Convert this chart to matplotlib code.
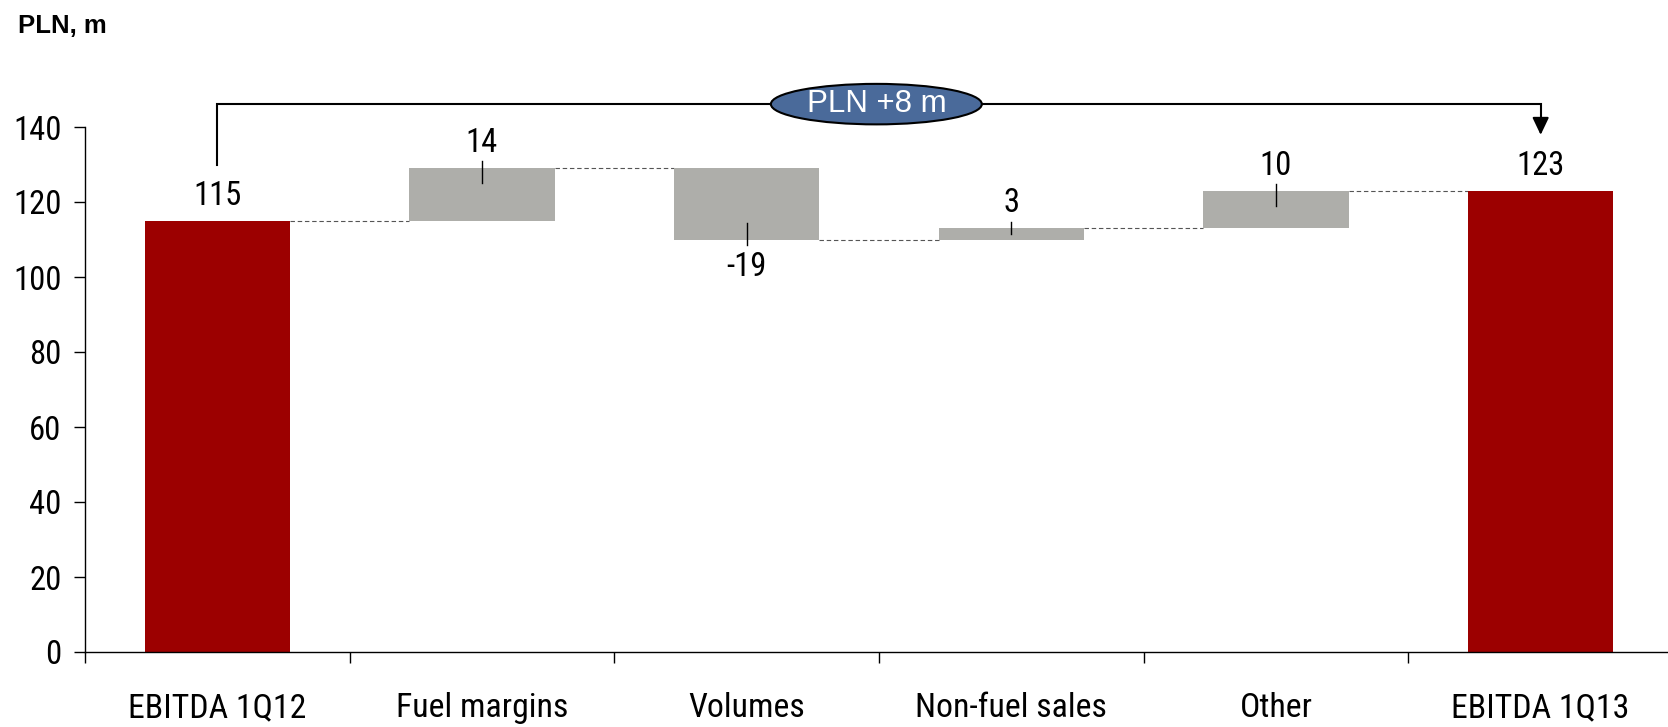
import matplotlib
matplotlib.use("Agg")
import matplotlib.pyplot as plt
from matplotlib import font_manager
from matplotlib.patches import Ellipse
import numpy as np

categories = ["EBITDA 1Q12", "Fuel margins", "Volumes", "Non-fuel sales", "Other", "EBITDA 1Q13"]
changes = [115, 14, -19, 3, 10, 123]
is_total = [True, False, False, False, False, True]
value_labels = ["115", "14", "-19", "3", "10", "123"]
y_ticks = [0, 20, 40, 60, 80, 100, 120, 140]
unit_label = "PLN, m"
delta_label = "PLN +8 m"

RED = "#9C0000"
GRAY = "#AEAEAA"
REG = ["Liberation Sans", "DejaVu Sans"]

installed = {f.name for f in font_manager.fontManager.ttflist}
if "Liberation Sans Narrow" in installed:
    NARROW, FS, FSX = ["Liberation Sans Narrow", "Liberation Sans"], 24, 24
elif "Roboto Condensed" in installed:
    NARROW, FS, FSX = ["Roboto Condensed", "Liberation Sans"], 23.5, 24.3
else:
    NARROW, FS, FSX = REG, 21, 21

# compute bases / heights
bottoms, heights, tops = [], [], []
running = 0
for v, t in zip(changes, is_total):
    if t:
        b, h = 0, v
        running = v
    else:
        b = running if v >= 0 else running + v
        h = abs(v)
        running += v
    bottoms.append(b); heights.append(h); tops.append(running)

W, H = 1668, 727
fig = plt.figure(figsize=(W / 100, H / 100), dpi=100)
left_px, right_px, top_px, bot_px = 85, 1673, 127, 652
ax = fig.add_axes([left_px / W, 1 - bot_px / H, (right_px - left_px) / W, (bot_px - top_px) / H])

x = np.arange(len(categories))
bw = 0.55
colors = [RED if t else GRAY for t in is_total]
ax.bar(x, heights, bottom=bottoms, width=bw, color=colors, edgecolor="none", zorder=2)

# connectors
for i in range(len(categories) - 1):
    lvl = tops[i]
    ax.plot([x[i] + bw / 2, x[i + 1] - bw / 2], [lvl, lvl], color="#555555",
            lw=0.8, ls=(0, (4, 2.5)), zorder=1)

# value labels and leaders
for i, (v, t) in enumerate(zip(changes, is_total)):
    top = bottoms[i] + heights[i]
    if t:
        ax.text(x[i], top + 6.5, value_labels[i], ha="center", va="center",
                fontsize=FS, family=NARROW)
    elif v >= 0:
        ax.text(x[i], top + 6.6, value_labels[i], ha="center", va="center",
                fontsize=FS, family=NARROW)
        inside = min(4.0, heights[i] / 2)
        ax.plot([x[i], x[i]], [top + 1.8, top - inside], color="black", lw=1.0, zorder=3)
    else:
        bot = bottoms[i]
        ax.text(x[i], bot - 7.3, value_labels[i], ha="center", va="center",
                fontsize=FS, family=NARROW)
        inside = min(4.5, heights[i] / 2)
        ax.plot([x[i], x[i]], [bot + inside, bot - 1.4], color="black", lw=1.0, zorder=3)

ax.set_xlim(-0.5, len(categories) - 0.5)
ax.set_ylim(0, 140)
ax.set_yticks(y_ticks)
ax.set_yticklabels([str(t) for t in y_ticks], family=NARROW, fontsize=FS)
ax.set_xticks(x)
ax.set_xticklabels(categories, family=NARROW, fontsize=FSX)
ax.set_xticks(np.arange(-0.5, len(categories), 1.0), minor=True)
ax.tick_params(axis="x", which="major", length=0, pad=29)
ax.tick_params(axis="x", which="minor", length=8, width=1.0, direction="out")
ax.tick_params(axis="y", length=8, width=1.0, direction="out", pad=9)
for s in ["top", "right"]:
    ax.spines[s].set_visible(False)
for s in ["left", "bottom"]:
    ax.spines[s].set_linewidth(1.0)

# bracket
yb = 146.1
ax.plot([0, 0, 5, 5], [129.9, yb, yb, 140.5], color="black", lw=1.5, clip_on=False,
        solid_joinstyle="miter", zorder=4)
ax.annotate("", xy=(5, 137.9), xytext=(5, 141.5),
            arrowprops=dict(arrowstyle="-|>,head_length=1.05,head_width=0.5",
                            color="black", lw=1.5, shrinkA=0, shrinkB=0),
            annotation_clip=False, zorder=4)
ell = Ellipse((2.49, yb), width=0.797, height=10.8, facecolor="#4A6A9A",
              edgecolor="black", lw=1.5, clip_on=False, zorder=5)
ax.add_patch(ell)
ax.text(2.49, yb, delta_label, ha="center", va="center", color="white",
        fontsize=22.5, family=REG, zorder=6, clip_on=False)

fig.text(18 / W, 1 - 33 / H, unit_label, ha="left", va="baseline",
         fontsize=18.5, fontweight="bold", family=REG)

fig.savefig("out.png", dpi=100)
